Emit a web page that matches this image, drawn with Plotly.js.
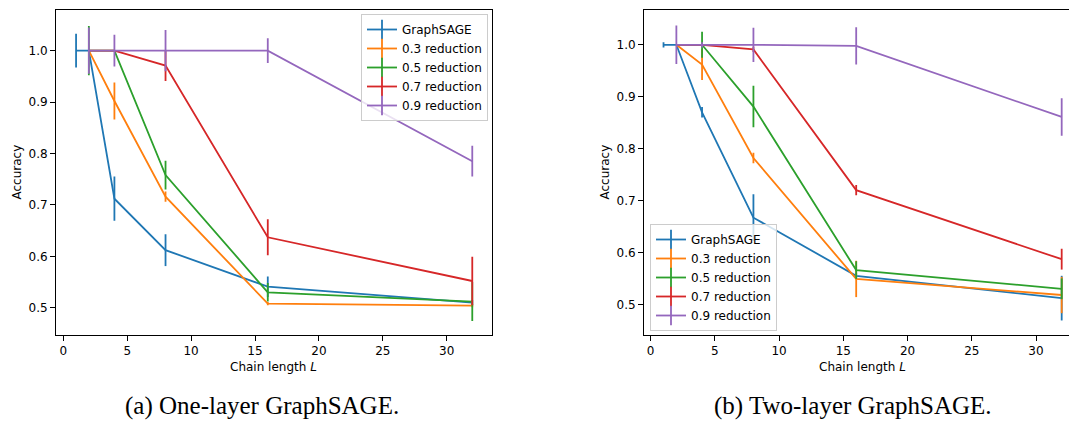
<!DOCTYPE html>
<html>
<head>
<meta charset="utf-8">
<script src="https://cdn.plot.ly/plotly-3.0.1.min.js"></script>
<style>
html,body{margin:0;padding:0;overflow:hidden;background:#fff;}
#chart{width:1090px;height:421px;}
</style>
</head>
<body>
<div id="chart"></div>
<script>
// ---------- data ----------
const seriesNames = ["GraphSAGE", "0.3 reduction", "0.5 reduction", "0.7 reduction", "0.9 reduction"];
const colors = ["#1f77b4", "#ff7f0e", "#2ca02c", "#d62728", "#9467bd"];

const xBase = [1, 2, 4, 8, 16, 32];
const xRed = [2, 4, 8, 16, 32];

// (a) One-layer GraphSAGE
const a_graphsage = [1.0, 1.0, 0.712, 0.612, 0.541, 0.510];
const a_graphsage_err = [0.033, 0.0, 0.043, 0.031, 0.02, 0.005];
const a_r03 = [1.0, 0.902, 0.716, 0.508, 0.504];
const a_r03_err = [0.0, 0.036, 0.01, 0.003, 0.003];
const a_r05 = [1.0, 1.0, 0.758, 0.530, 0.512];
const a_r05_err = [0.048, 0.0, 0.028, 0.018, 0.038];
const a_r07 = [1.0, 1.0, 0.971, 0.637, 0.552];
const a_r07_err = [0.0, 0.0, 0.03, 0.035, 0.047];
const a_r09 = [1.0, 1.0, 1.0, 1.0, 0.785];
const a_r09_err = [0.045, 0.031, 0.04, 0.024, 0.03];

// (b) Two-layer GraphSAGE
const b_graphsage = [1.0, 1.0, 0.870, 0.667, 0.555, 0.512];
const b_graphsage_err = [0.005, 0.0, 0.01, 0.045, 0.005, 0.043];
const b_r03 = [1.0, 0.962, 0.782, 0.549, 0.518];
const b_r03_err = [0.0, 0.03, 0.01, 0.035, 0.035];
const b_r05 = [1.0, 1.0, 0.881, 0.566, 0.530];
const b_r05_err = [0.0, 0.025, 0.04, 0.017, 0.02];
const b_r07 = [1.0, 1.0, 0.991, 0.720, 0.587];
const b_r07_err = [0.0, 0.0, 0.005, 0.01, 0.02];
const b_r09 = [1.0, 1.0, 1.0, 0.998, 0.861];
const b_r09_err = [0.037, 0.005, 0.033, 0.036, 0.036];

const xTicks = [0, 5, 10, 15, 20, 25, 30];
const yTicks = [0.5, 0.6, 0.7, 0.8, 0.9, 1.0];
const captionA = "(a) One-layer GraphSAGE.";
const captionB = "(b) Two-layer GraphSAGE.";
const xTitle = "Chain length <i>L</i>";
const yTitle = "Accuracy";

// ---------- layout helpers ----------
const W = 1090, H = 421;
const px = v => v / W;
const py = v => 1 - v / H;

const panelA = {x: [a_graphsage, a_r03, a_r05, a_r07, a_r09], e: [a_graphsage_err, a_r03_err, a_r05_err, a_r07_err, a_r09_err]};
const panelB = {x: [b_graphsage, b_r03, b_r05, b_r07, b_r09], e: [b_graphsage_err, b_r03_err, b_r05_err, b_r07_err, b_r09_err]};

const traces = [];
function addPanel(panel, xa, ya, legendId) {
  for (let i = 0; i < 5; i++) {
    traces.push({
      type: "scatter", mode: "lines",
      x: i === 0 ? xBase : xRed, y: panel.x[i],
      xaxis: xa, yaxis: ya,
      line: {color: colors[i], width: 1.8},
      error_y: {type: "data", array: panel.e[i], visible: true, color: colors[i], thickness: 1.8, width: 0},
      showlegend: false, hoverinfo: "skip"
    });
  }
  for (let i = 0; i < 5; i++) {
    traces.push({
      type: "scatter", mode: "lines+markers",
      x: [null], y: [null], xaxis: xa, yaxis: ya,
      name: seriesNames[i], legend: legendId,
      line: {color: colors[i], width: 1.8},
      marker: {symbol: "line-ns-open", size: 14, color: colors[i], line: {color: colors[i], width: 1.8}},
      showlegend: true
    });
  }
}
addPanel(panelA, "x", "y", "legend");
addPanel(panelB, "x2", "y2", "legend2");

const axisCommon = {
  showline: true, mirror: true, linecolor: "#000", linewidth: 1,
  ticks: "outside", ticklen: 5, tickwidth: 1, tickcolor: "#000",
  showgrid: false, zeroline: false,
  tickfont: {family: "DejaVu Sans", size: 12, color: "#000"}
};
const yDom = [py(335), py(10)];

const legendCommon = {
  font: {family: "DejaVu Sans", size: 12, color: "#000"},
  bgcolor: "rgba(255,255,255,0.8)", bordercolor: "#cccccc", borderwidth: 1,
  xanchor: "left", tracegroupgap: 0, itemwidth: 30
};

const layout = {
  width: W, height: H,
  margin: {l: 0, r: 0, t: 0, b: 0},
  paper_bgcolor: "#fff", plot_bgcolor: "#fff",
  xaxis: Object.assign({}, axisCommon, {domain: [px(56), px(491.7)], range: [-0.57, 33.52], tickvals: xTicks, anchor: "y"}),
  yaxis: Object.assign({}, axisCommon, {domain: yDom, range: [0.447, 1.079], tickvals: yTicks, tickformat: ".1f", anchor: "x"}),
  xaxis2: Object.assign({}, axisCommon, {domain: [px(644), px(1081.6)], range: [-0.52, 33.55], tickvals: xTicks, anchor: "y2"}),
  yaxis2: Object.assign({}, axisCommon, {domain: yDom, range: [0.441, 1.067], tickvals: yTicks, tickformat: ".1f", anchor: "x2"}),
  legend: Object.assign({}, legendCommon, {x: px(361), y: py(14), yanchor: "top"}),
  legend2: Object.assign({}, legendCommon, {x: px(650), y: py(331), yanchor: "bottom"}),
  annotations: [
    {text: yTitle, xref: "paper", yref: "paper", x: px(17), y: py(172.5), textangle: -90, showarrow: false, font: {family: "DejaVu Sans", size: 12, color: "#000"}, xanchor: "center", yanchor: "middle"},
    {text: yTitle, xref: "paper", yref: "paper", x: px(605), y: py(172.5), textangle: -90, showarrow: false, font: {family: "DejaVu Sans", size: 12, color: "#000"}, xanchor: "center", yanchor: "middle"},
    {text: xTitle, xref: "paper", yref: "paper", x: px(273.8), y: py(367), showarrow: false, font: {family: "DejaVu Sans", size: 12, color: "#000"}, xanchor: "center", yanchor: "middle"},
    {text: xTitle, xref: "paper", yref: "paper", x: px(862.8), y: py(367), showarrow: false, font: {family: "DejaVu Sans", size: 12, color: "#000"}, xanchor: "center", yanchor: "middle"},
    {text: captionA, xref: "paper", yref: "paper", x: px(262), y: py(421), showarrow: false, borderpad: 0, font: {family: "Liberation Serif", size: 25, color: "#000"}, xanchor: "center", yanchor: "bottom"},
    {text: captionB, xref: "paper", yref: "paper", x: px(852.5), y: py(421), showarrow: false, borderpad: 0, font: {family: "Liberation Serif", size: 25, color: "#000"}, xanchor: "center", yanchor: "bottom"}
  ]
};

Plotly.newPlot("chart", traces, layout, {staticPlot: true, displayModeBar: false});
</script>
</body>
</html>
